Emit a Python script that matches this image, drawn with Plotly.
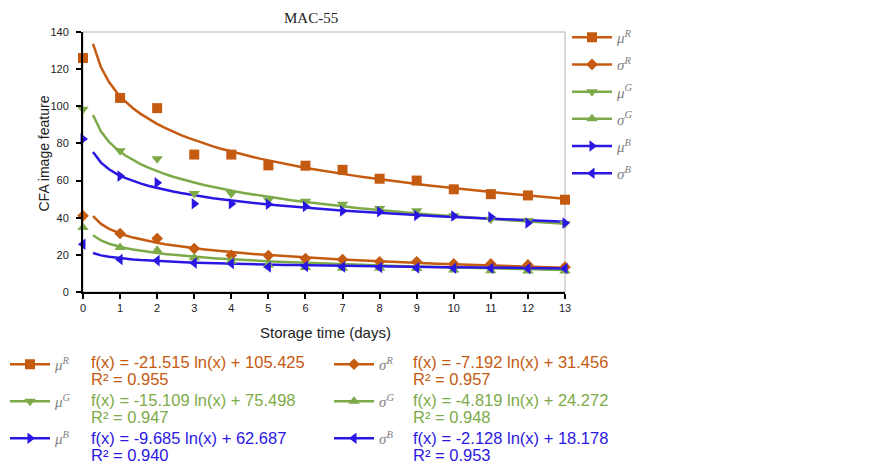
import numpy as np
import plotly.graph_objects as go

# ---------------- data ----------------
days = list(range(14))
mu_R = [126, 104.5, 99, 74, 74, 68.2, 68, 65.8, 61, 60, 55.3, 52.7, 52, 49.7]
sigma_R = [41, 31.5, 28.8, 23.4, 19.8, 19.6, 18, 17.5, 16.3, 16.3, 15.1, 15.1, 14.6, 13.4]
mu_G = [98.4, 76.1, 71.8, 53.1, 53.1, 49.5, 48.9, 47.2, 45, 43.7, 41, 39.2, 38.5, 36.9]
sigma_G = [34.7, 24, 22.5, 18.5, 16.5, 14.5, 13.2, 12.8, 12.8, 12.6, 11.8, 11.4, 11.3, 11.3]
mu_B = [82.4, 62.4, 58.8, 47.5, 47.5, 47.2, 46, 43.6, 43.2, 41.2, 40.9, 40.4, 37.2, 37.2]
sigma_B = [25.7, 17.5, 16.9, 15.6, 15.4, 13.5, 13.8, 13.5, 13.2, 13.0, 12.8, 12.8, 12.7, 12.6]

series_keys = ["mu_R", "sigma_R", "mu_G", "sigma_G", "mu_B", "sigma_B"]
series_vals = [mu_R, sigma_R, mu_G, sigma_G, mu_B, sigma_B]
series_labels = ["<i>μ</i><sup><i>R</i></sup>", "<i>σ</i><sup><i>R</i></sup>",
                 "<i>μ</i><sup><i>G</i></sup>", "<i>σ</i><sup><i>G</i></sup>",
                 "<i>μ</i><sup><i>B</i></sup>", "<i>σ</i><sup><i>B</i></sup>"]
# log trend-line coefficients as printed on the chart: f(x) = a ln(x) + b
trend_slope = [-21.515, -7.192, -15.109, -4.819, -9.685, -2.128]
trend_icpt = [105.425, 31.456, 75.498, 24.272, 62.687, 18.178]
trend_r2 = ["0.955", "0.957", "0.947", "0.948", "0.940", "0.953"]
eq_text = ["f(x) = -21.515 ln(x) + 105.425", "f(x) = -7.192 ln(x) + 31.456",
           "f(x) = -15.109 ln(x) + 75.498", "f(x) = -4.819 ln(x) + 24.272",
           "f(x) = -9.685 ln(x) + 62.687", "f(x) = -2.128 ln(x) + 18.178"]

x_ticks = list(range(14))
y_ticks = [0, 20, 40, 60, 80, 100, 120, 140]

# ---------------- styles ----------------
ORANGE = "#C55A11"
GREEN = "#7DAA48"
BLUE = "#2B17E3"
colors = [ORANGE, ORANGE, GREEN, GREEN, BLUE, BLUE]
symbols = ["square", "diamond", "triangle-down", "triangle-up", "triangle-right", "triangle-left"]
sizes = [10, 9, 10, 10, 10, 10]

# the page body has an 8px margin; lay out in page pixels and convert
OFF = 8
W, H = 890 - OFF, 464 - OFF
PL, PR, PT, PB = 83, 565, 32, 292          # plot area in page pixels
L, T = PL - OFF, PT - OFF
R, B = W - (PR - OFF), H - (PB - OFF)
PW, PH = PR - PL, PB - PT

def px_x(p):
    return (p - PL) / PW

def px_y(p):
    return (PB - p) / PH

fig = go.Figure()

# trend curves
xt = np.linspace(0.27, 13, 60)
for i in range(6):
    fig.add_trace(go.Scatter(
        x=xt, y=trend_slope[i] * np.log(xt) + trend_icpt[i],
        mode="lines", line=dict(color=colors[i], width=2.5),
        showlegend=False, hoverinfo="skip", cliponaxis=False))

# data markers
for i in range(6):
    fig.add_trace(go.Scatter(
        x=days, y=series_vals[i], mode="markers",
        marker=dict(symbol=symbols[i], size=sizes[i], color=colors[i]),
        showlegend=False, cliponaxis=False, name=series_keys[i]))

# legend entries (right legend)
for i in range(6):
    fig.add_trace(go.Scatter(
        x=[None], y=[None], mode="lines+markers", name=series_labels[i],
        line=dict(color=colors[i], width=2.5),
        marker=dict(symbol=symbols[i], size=sizes[i], color=colors[i]),
        legend="legend", legendgroup="r%d" % i))

# legend entries (bottom, two columns)
for i in range(6):
    fig.add_trace(go.Scatter(
        x=[None], y=[None], mode="lines+markers", name=series_labels[i],
        line=dict(color=colors[i], width=2.5),
        marker=dict(symbol=symbols[i], size=sizes[i], color=colors[i]),
        legend="legend2" if i % 2 == 0 else "legend3", legendgroup="b%d" % i))

leg_font = dict(family="Liberation Serif", size=15, color="#7f7f7f")
leg_common = dict(xanchor="left", yanchor="top",
                  font=leg_font, itemwidth=40, traceorder="grouped",
                  bgcolor="rgba(0,0,0,0)")
fig.update_layout(
    legend=dict(x=px_x(567), y=px_y(21), tracegroupgap=4.7, **leg_common),
    legend2=dict(x=px_x(5), y=px_y(348), tracegroupgap=14.5, **leg_common),
    legend3=dict(x=px_x(329), y=px_y(348), tracegroupgap=14.5, **leg_common),
)

annotations = []
# equation texts
col_x = [89, 411]
row_y = [362, 400, 438]
for i in range(6):
    ex = col_x[i % 2]
    ry = row_y[i // 2]
    for j, txt in enumerate([eq_text[i], "R² = " + trend_r2[i]]):
        annotations.append(dict(
            xref="paper", yref="paper", x=0, y=0, xanchor="left", yanchor="middle",
            xshift=ex - PL, yshift=-(ry + j * 16.5 - PB), text=txt, showarrow=False,
            font=dict(family="Liberation Sans", size=16.5, color=colors[i])))

# title and axis titles
annotations.append(dict(xref="paper", yref="paper", x=px_x(310.5), y=px_y(18), text="MAC-55",
                        showarrow=False, xanchor="center", yanchor="middle",
                        font=dict(family="Liberation Serif", size=15, color="#222")))
annotations.append(dict(xref="paper", yref="paper", x=px_x(43.5), y=px_y(154),
                        text="CFA image feature", textangle=-90, showarrow=False,
                        xanchor="center", yanchor="middle",
                        font=dict(family="Liberation Sans", size=14, color="#222")))
annotations.append(dict(xref="paper", yref="paper", x=px_x(325.5), y=px_y(333),
                        text="Storage time (days)", showarrow=False,
                        xanchor="center", yanchor="middle",
                        font=dict(family="Liberation Sans", size=15, color="#222")))

axis_common = dict(showline=True, linecolor="black", linewidth=2, ticks="outside",
                   ticklen=5, tickwidth=2, tickcolor="black", showgrid=False, zeroline=False,
                   automargin=False,
                   tickfont=dict(family="Liberation Sans", size=11, color="#222"))

fig.update_layout(
    width=W, height=H, autosize=False,
    margin=dict(l=L, r=R, t=T, b=B, pad=0, autoexpand=False),
    paper_bgcolor="white", plot_bgcolor="white",
    xaxis=dict(range=[0, 13], tickvals=x_ticks, **axis_common),
    yaxis=dict(range=[0, 140], tickvals=y_ticks, ticklabelstandoff=5, **axis_common),
    annotations=annotations,
    shapes=[dict(type="rect", xref="paper", yref="paper", x0=0, y0=0, x1=1, y1=1,
                 line=dict(color="#b3b3b3", width=1), layer="below")],
    showlegend=True,
)

fig.write_html("out.html")
